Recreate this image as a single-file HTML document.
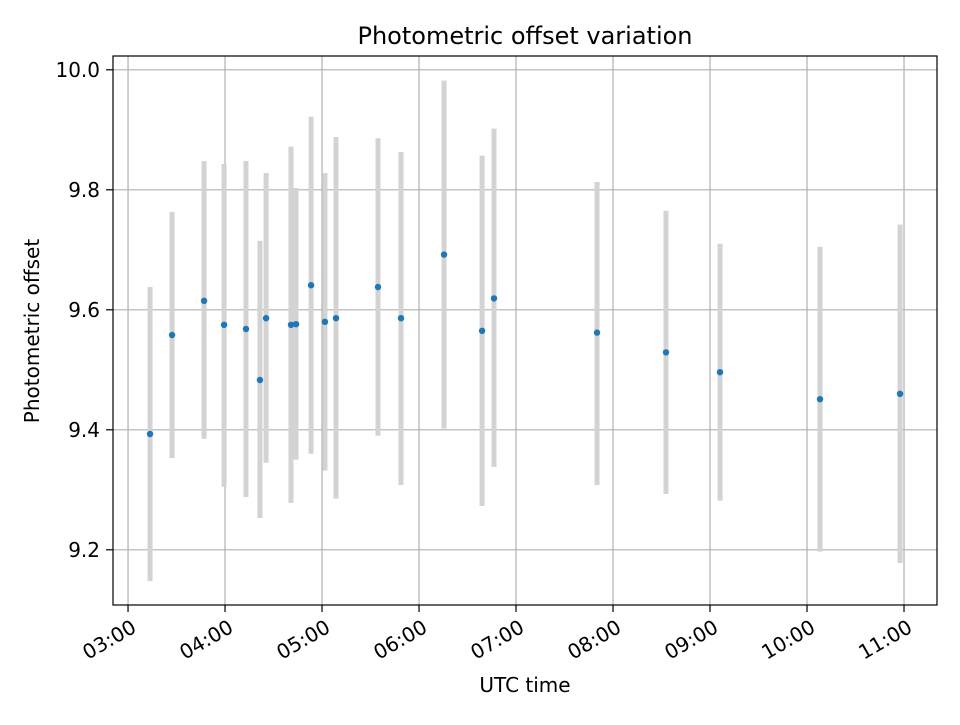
<!DOCTYPE html>
<html><head><meta charset="utf-8"><style>
html,body{margin:0;padding:0;background:#fff;}
svg text{font-family:"DejaVu Sans","Liberation Sans",sans-serif;fill:#000;}
</style></head><body>
<svg id="chart" width="960" height="720" viewBox="0 0 960 720" xmlns="http://www.w3.org/2000/svg">
<rect x="0" y="0" width="960" height="720" fill="#fff"/>
<g id="grid"></g>
<g id="bars"></g>
<g id="pts"></g>
<rect x="113" y="56" width="824" height="549" fill="none" stroke="#000" stroke-width="1.2"/>
<g id="axes"></g>
<text x="525" y="44" style="font-size:24px" text-anchor="middle">Photometric offset variation</text>
<text x="525" y="692" style="font-size:20px" text-anchor="middle">UTC time</text>
<text transform="translate(39,331) rotate(-90)" style="font-size:20px" text-anchor="middle">Photometric offset</text>
</svg>
<script>
const times=[3.227,3.454,3.784,3.99,4.216,4.36,4.423,4.68,4.732,4.887,5.03,5.144,5.577,5.814,6.258,6.65,6.773,7.835,8.546,9.103,10.134,10.959];
const values=[9.393,9.558,9.615,9.575,9.568,9.483,9.586,9.575,9.576,9.641,9.58,9.586,9.638,9.586,9.692,9.565,9.619,9.562,9.529,9.496,9.451,9.46];
const upper=[9.638,9.763,9.848,9.843,9.848,9.715,9.828,9.872,9.803,9.922,9.828,9.888,9.886,9.863,9.982,9.857,9.902,9.813,9.765,9.710,9.705,9.742];
const lower=[9.148,9.353,9.385,9.305,9.288,9.253,9.345,9.278,9.35,9.36,9.332,9.285,9.39,9.308,9.402,9.273,9.338,9.308,9.293,9.282,9.197,9.178];
const xTicks=[3,4,5,6,7,8,9,10,11];
const xTickLabels=["03:00","04:00","05:00","06:00","07:00","08:00","09:00","10:00","11:00"];
const yTicks=[9.2,9.4,9.6,9.8,10.0];
const yTickLabels=["9.2","9.4","9.6","9.8","10.0"];
const X0=113,X1=937,Y0=605,Y1=56,xmin=2.845,xmax=11.34,ymin=9.108,ymax=10.023;
const sx=v=>X0+(v-xmin)/(xmax-xmin)*(X1-X0);
const sy=v=>Y0-(v-ymin)/(ymax-ymin)*(Y0-Y1);
const NS="http://www.w3.org/2000/svg";
function mk(tag,attrs,parent){const e=document.createElementNS(NS,tag);for(const k in attrs)e.setAttribute(k,attrs[k]);parent.appendChild(e);return e;}
const grid=document.getElementById('grid'),axes=document.getElementById('axes'),bars=document.getElementById('bars'),pts=document.getElementById('pts');
xTicks.forEach((t,i)=>{const x=sx(t);
 let g=mk('line',{x1:x,x2:x,y1:Y1,y2:Y0,stroke:'#b0b0b0','stroke-width':1.2},grid);
 
 let tk=mk('line',{x1:x,x2:x,y1:Y0,y2:Y0+7,stroke:'#000','stroke-width':1.2},axes);
 
 let tx=mk('text',{x:0,y:0,dy:'0.76em',style:'font-size:20px','text-anchor':'end',transform:`translate(${x+2},${Y0+13}) rotate(-30)`},axes);
 tx.textContent=xTickLabels[i];
 
});
yTicks.forEach((t,i)=>{const y=sy(t);
 let g=mk('line',{x1:X0,x2:X1,y1:y,y2:y,stroke:'#b0b0b0','stroke-width':1.2},grid);
 
 let tk=mk('line',{x1:X0-7,x2:X0,y1:y,y2:y,stroke:'#000','stroke-width':1.2},axes);
 
 let tx=mk('text',{x:X0-13,y:y+7,style:'font-size:20px','text-anchor':'end'},axes);
 tx.textContent=yTickLabels[i];
 
});
times.forEach((t,i)=>{const x=sx(t);
 let b=mk('line',{x1:x,x2:x,y1:sy(upper[i]),y2:sy(lower[i]),stroke:'#d3d3d3','stroke-width':5},bars);
 
 let c=mk('circle',{cx:x,cy:sy(values[i]),r:3.2,fill:'#1f77b4'},pts);
 
});
</script>
</body></html>
